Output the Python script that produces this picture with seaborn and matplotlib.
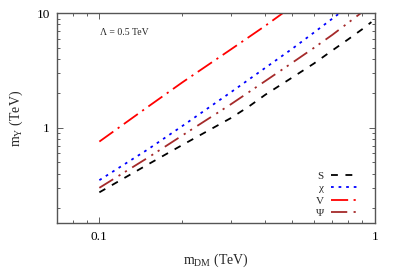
"""
    m_Y vs m_DM, Lambda = 0.5 TeV
"""

import matplotlib
matplotlib.use('Agg')
import matplotlib.pyplot as plt
import numpy as np
import pandas as pd
import seaborn as sns
from matplotlib.ticker import NullFormatter

# values (TeV)
m_dm_S = [0.1, 0.15, 0.2, 0.3, 0.35, 0.4, 0.5, 0.6, 0.7, 0.8, 0.9, 0.97]
m_y_S = [0.274, 0.48, 0.71, 1.22, 1.55, 1.95, 2.75, 3.65, 4.75, 5.95, 7.3, 8.4]

m_dm_chi = [0.1, 0.15, 0.2, 0.3, 0.4, 0.5, 0.6, 0.7, 0.8]
m_y_chi = [0.35, 0.65, 1.04, 2.05, 3.35, 4.9, 6.8, 9.0, 11.5]

m_dm_V = [0.1, 0.15, 0.2, 0.3, 0.4, 0.5]
m_y_V = [0.76, 1.53, 2.5, 4.85, 7.8, 11.5]

m_dm_Psi = [0.1, 0.15, 0.2, 0.3, 0.4, 0.5, 0.6, 0.7, 0.8, 0.9]
m_y_Psi = [0.30, 0.55, 0.86, 1.61, 2.57, 3.7, 5.0, 6.5, 8.3, 10.3]

labels = ['S', 'χ', 'V', 'Ψ']
colors = {'S': 'black', 'χ': '#0000ff', 'V': '#ff0000', 'Ψ': '#a52a2a'}
# dash patterns in units of line width
dashes = {'S': (3.8, 4.2),
          'χ': (1.5, 2.7),
          'V': (9.5, 3.0, 1.2, 3.0),
          'Ψ': (9.0, 3.5, 1.2, 3.0, 1.2, 3.5)}

df = pd.concat([
    pd.DataFrame({'m_dm': m_dm_S, 'm_y': m_y_S, 'label': 'S'}),
    pd.DataFrame({'m_dm': m_dm_chi, 'm_y': m_y_chi, 'label': 'χ'}),
    pd.DataFrame({'m_dm': m_dm_V, 'm_y': m_y_V, 'label': 'V'}),
    pd.DataFrame({'m_dm': m_dm_Psi, 'm_y': m_y_Psi, 'label': 'Ψ'}),
], ignore_index=True)

sns.set_style('ticks')
plt.rcParams['font.family'] = ['Liberation Serif', 'DejaVu Serif']
plt.rcParams['mathtext.fontset'] = 'custom'
plt.rcParams['mathtext.rm'] = 'Liberation Serif'
plt.rcParams['mathtext.it'] = 'Liberation Serif:italic'

fig = plt.figure(figsize=(3.99, 2.79), dpi=100)
ax = fig.add_axes([0.142, 0.202, 0.798, 0.750])

sns.lineplot(data=df, x='m_dm', y='m_y', hue='label', style='label',
             hue_order=labels, style_order=labels, palette=colors,
             dashes=dashes, linewidth=1.3, ax=ax, sort=False)

ax.set_xscale('log')
ax.set_yscale('log')
ax.set_xlim(0.07, 1.0)
ax.set_ylim(0.149, 10)

ax.set_xticks([0.1, 1], labels=['0.1', '1'])
ax.set_xticks([0.07, 0.08, 0.09] + [i / 10 for i in range(2, 10)], minor=True)
ax.set_yticks([1, 10], labels=['1', '10'])
ax.set_yticks([i / 10 for i in range(2, 10)] + list(range(2, 10)), minor=True)
ax.xaxis.set_minor_formatter(NullFormatter())
ax.yaxis.set_minor_formatter(NullFormatter())
ax.tick_params(which='both', direction='in', top=True, right=True,
               labelsize=9.5, colors='#444444', labelcolor='black')
ax.tick_params(which='major', length=4, width=0.6)
ax.tick_params(which='minor', length=2, width=0.6)
ax.tick_params(axis='x', which='major', pad=6)
ax.tick_params(axis='y', which='major', pad=5)
for s in ax.spines.values():
    s.set_color('#555555')
    s.set_linewidth(1.0)

ax.set_xlabel(r'$\mathrm{m}_{\mathrm{DM}}$ (TeV)', fontsize=10, labelpad=6)
ax.set_ylabel(r'$\mathrm{m}_{\mathrm{Y}}$ (TeV)', fontsize=10, labelpad=8)

ax.text(0.135, 0.91, 'Λ = 0.5 TeV', transform=ax.transAxes,
        fontsize=7, ha='left', va='center')

ax.legend(loc='lower right', frameon=False, markerfirst=False, fontsize=8,
          handlelength=2.6, handletextpad=0.6, labelspacing=0.25,
          borderaxespad=0.0, bbox_to_anchor=(0.965, 0.0))

plt.savefig('out.png', dpi=100)
